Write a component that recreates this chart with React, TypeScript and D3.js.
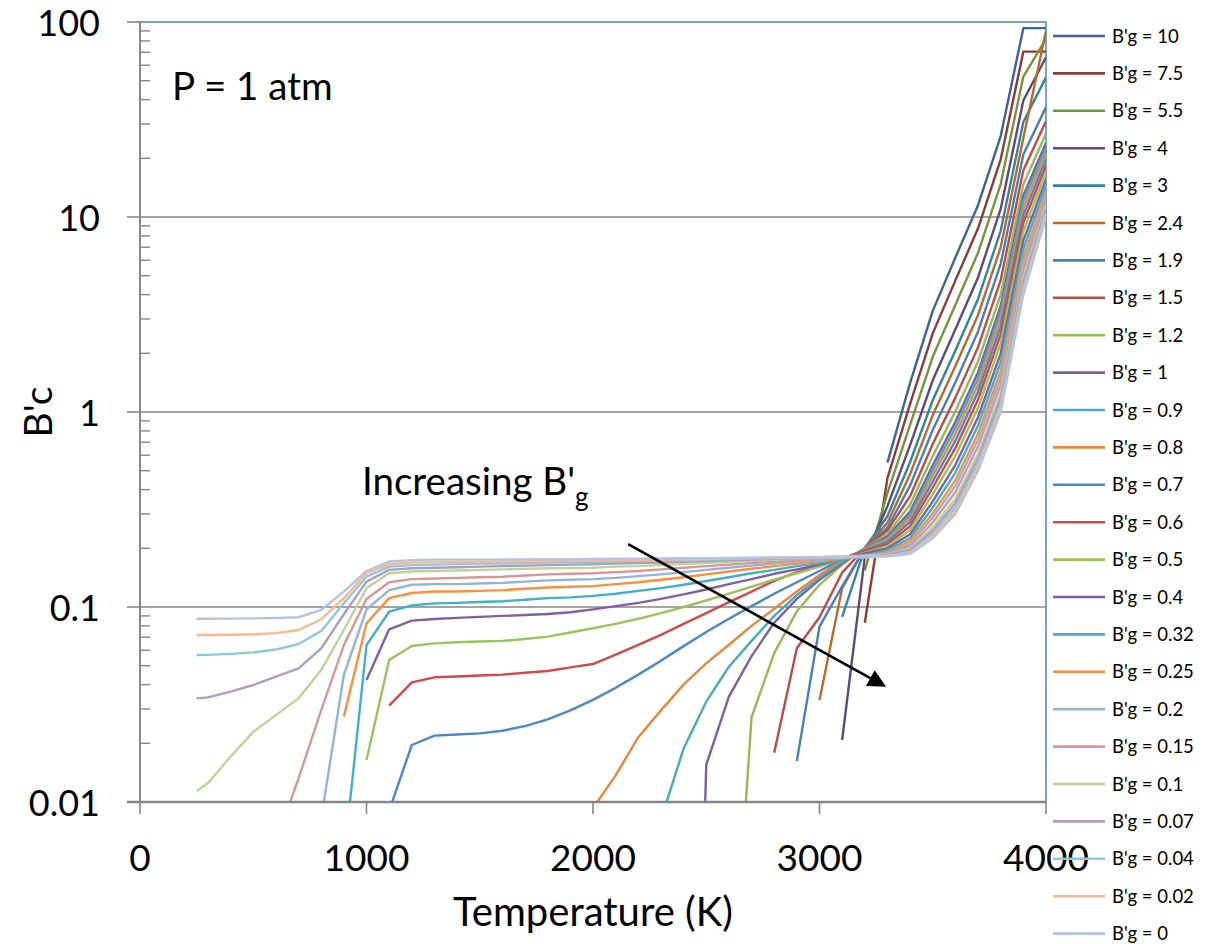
import React from 'react';
import * as d3 from 'd3';

// Temperature grid (K)
const TEMPS = [250, 300, 400, 500, 600, 700, 800, 900, 1000, 1100, 1200, 1300, 1400, 1500, 1600, 1700, 1800, 1900, 2000, 2100, 2200, 2300, 2400, 2500, 2600, 2700, 2800, 2900, 3000, 3100, 3200, 3300, 3400, 3500, 3600, 3700, 3800, 3900, 4000];

const LABELS = ["B'g = 10", "B'g = 7.5", "B'g = 5.5", "B'g = 4", "B'g = 3", "B'g = 2.4", "B'g = 1.9", "B'g = 1.5", "B'g = 1.2", "B'g = 1", "B'g = 0.9", "B'g = 0.8", "B'g = 0.7", "B'g = 0.6", "B'g = 0.5", "B'g = 0.4", "B'g = 0.32", "B'g = 0.25", "B'g = 0.2", "B'g = 0.15", "B'g = 0.1", "B'g = 0.07", "B'g = 0.04", "B'g = 0.02", "B'g = 0"];

const COLORS = ['#3C6497', '#8E3A38', '#77933C', '#5F497A', '#31859C', '#B9692E', '#4A7EBB', '#BE4B48', '#98B954', '#7D60A0', '#46AAC5', '#E8883A', '#4A86CA', '#CF4A48', '#9BC35A', '#7F5FA7', '#3FAFCA', '#FA8F3E', '#95B3D7', '#D99694', '#BBD49A', '#AC9CC8', '#8DC8DD', '#FAB88C', '#B4C4E0'];

// index into TEMPS at which each series begins
const START = [31, 30, 30, 29, 29, 28, 27, 26, 24, 22, 21, 18, 9, 9, 8, 8, 7, 7, 6, 4, 0, 0, 0, 0, 0];

const BG_10 = [0.55, 1.41, 3.3, 6.2, 11.5, 26, 93, 93];
const BG_7_5 = [0.083, 0.458, 1.1, 2.53, 4.73, 8.75, 19.75, 70.5, 70.5];
const BG_5_5 = [0.154, 0.384, 0.86, 1.92, 3.55, 6.55, 14.75, 52.5, 82];
const BG_4 = [0.0208, 0.18, 0.329, 0.676, 1.455, 2.66, 4.9, 11, 39.6, 66];
const BG_3 = [0.089, 0.2, 0.292, 0.554, 1.15, 2.07, 3.8, 8.5, 30.7, 52];
const BG_2_4 = [0.0333, 0.125, 0.2, 0.27, 0.48, 0.963, 1.72, 3.14, 7, 25.4, 90];
const BG_1_9 = [0.0162, 0.0794, 0.1275, 0.2, 0.255, 0.419, 0.809, 1.42, 2.59, 5.75, 20.9, 36.6];
const BG_1_5 = [0.0179, 0.0614, 0.0886, 0.15, 0.2, 0.247, 0.37, 0.686, 1.185, 2.15, 4.75, 17.35, 31];
const BG_1_2 = [0.0005, 0.0272, 0.058, 0.095, 0.13, 0.165, 0.2, 0.237, 0.334, 0.594, 1.01, 1.82, 4, 14.7, 26.8];
const BG_1 = [0.000001, 0.0155, 0.0347, 0.056, 0.083, 0.11, 0.138, 0.167, 0.2, 0.23, 0.309, 0.533, 0.89, 1.6, 3.5, 12.9, 24];
const BG_0_9 = [0.0081, 0.0188, 0.0327, 0.0494, 0.067, 0.09, 0.115, 0.142, 0.17, 0.2, 0.225, 0.297, 0.502, 0.831, 1.49, 3.25, 12.0, 22.6];
const BG_0_8 = [0.0093, 0.0137, 0.0215, 0.0295, 0.04, 0.0514, 0.064, 0.08, 0.098, 0.12, 0.146, 0.174, 0.198, 0.22, 0.285, 0.471, 0.772, 1.38, 3, 11.1, 21.2];
const BG_0_7 = [0.009, 0.0196, 0.0219, 0.0222, 0.0225, 0.0232, 0.0245, 0.0265, 0.0295, 0.0334, 0.0385, 0.045, 0.053, 0.063, 0.0745, 0.087, 0.101, 0.117, 0.134, 0.153, 0.176, 0.196, 0.215, 0.273, 0.44, 0.713, 1.27, 2.75, 10.2, 19.8];
const BG_0_6 = [0.0312, 0.0411, 0.0436, 0.044, 0.0445, 0.045, 0.046, 0.047, 0.049, 0.051, 0.057, 0.064, 0.072, 0.082, 0.093, 0.106, 0.12, 0.136, 0.151, 0.165, 0.178, 0.193, 0.21, 0.26, 0.41, 0.654, 1.16, 2.5, 9.34, 18.4];
const BG_0_5 = [0.0164, 0.0535, 0.0631, 0.0651, 0.066, 0.0665, 0.067, 0.0685, 0.0705, 0.074, 0.0778, 0.082, 0.087, 0.093, 0.100, 0.108, 0.117, 0.127, 0.138, 0.149, 0.161, 0.176, 0.19, 0.205, 0.248, 0.379, 0.595, 1.05, 2.25, 8.45, 17];
const BG_0_4 = [0.0422, 0.0768, 0.0851, 0.0868, 0.088, 0.089, 0.09, 0.091, 0.092, 0.094, 0.0973, 0.101, 0.105, 0.110, 0.116, 0.123, 0.131, 0.139, 0.148, 0.156, 0.165, 0.176, 0.188, 0.2, 0.236, 0.348, 0.536, 0.94, 2.0, 7.56, 15.6];
const BG_0_32 = [0.005, 0.0638, 0.0946, 0.102, 0.1044, 0.105, 0.106, 0.107, 0.109, 0.111, 0.112, 0.114, 0.117, 0.121, 0.125, 0.130, 0.136, 0.142, 0.149, 0.155, 0.162, 0.168, 0.175, 0.184, 0.195, 0.226, 0.323, 0.489, 0.852, 1.8, 6.85, 14.5];
const BG_0_25 = [0.0274, 0.0824, 0.111, 0.118, 0.120, 0.120, 0.121, 0.122, 0.124, 0.126, 0.127, 0.128, 0.131, 0.134, 0.138, 0.142, 0.147, 0.152, 0.157, 0.162, 0.167, 0.172, 0.177, 0.183, 0.191, 0.218, 0.302, 0.4475, 0.775, 1.625, 6.2, 13.5];
const BG_0_2 = [0.0082, 0.0448, 0.0973, 0.122, 0.130, 0.131, 0.131, 0.132, 0.133, 0.135, 0.137, 0.138, 0.139, 0.141, 0.144, 0.147, 0.151, 0.155, 0.159, 0.163, 0.167, 0.171, 0.175, 0.179, 0.183, 0.189, 0.211, 0.287, 0.418, 0.72, 1.5, 5.78, 12.8];
const BG_0_15 = [0.0063, 0.0132, 0.0296, 0.0638, 0.110, 0.134, 0.139, 0.140, 0.141, 0.142, 0.143, 0.145, 0.147, 0.148, 0.149, 0.151, 0.153, 0.156, 0.159, 0.162, 0.165, 0.168, 0.171, 0.174, 0.177, 0.18, 0.183, 0.1875, 0.205, 0.271, 0.389, 0.665, 1.375, 5.34, 12.1];
const BG_0_1 = [0.0114, 0.0125, 0.0171, 0.0229, 0.0279, 0.034, 0.0475, 0.0762, 0.125, 0.149, 0.152, 0.153, 0.154, 0.155, 0.156, 0.157, 0.158, 0.1585, 0.159, 0.161, 0.162, 0.164, 0.166, 0.168, 0.170, 0.172, 0.1745, 0.177, 0.179, 0.181, 0.183, 0.186, 0.199, 0.256, 0.359, 0.61, 1.25, 4.89, 11.4];
const BG_0_07 = [0.034, 0.0344, 0.0368, 0.0398, 0.0439, 0.0484, 0.0614, 0.0918, 0.135, 0.155, 0.158, 0.159, 0.16, 0.161, 0.162, 0.163, 0.164, 0.165, 0.1656, 0.167, 0.168, 0.169, 0.1705, 0.172, 0.1735, 0.175, 0.1765, 0.178, 0.18, 0.181, 0.182, 0.185, 0.196, 0.246, 0.341, 0.577, 1.175, 4.62, 11];
const BG_0_04 = [0.0567, 0.0568, 0.0575, 0.0585, 0.0605, 0.0646, 0.0753, 0.1045, 0.143, 0.161, 0.164, 0.165, 0.166, 0.167, 0.167, 0.168, 0.169, 0.1695, 0.170, 0.171, 0.172, 0.173, 0.174, 0.175, 0.176, 0.177, 0.178, 0.179, 0.18, 0.181, 0.182, 0.1835, 0.192, 0.237, 0.324, 0.544, 1.1, 4.36, 10.6];
const BG_0_02 = [0.0718, 0.0718, 0.072, 0.0725, 0.0735, 0.0762, 0.0865, 0.111, 0.149, 0.166, 0.169, 0.169, 0.170, 0.170, 0.171, 0.171, 0.172, 0.1725, 0.173, 0.1735, 0.174, 0.175, 0.1755, 0.176, 0.177, 0.178, 0.179, 0.18, 0.18, 0.181, 0.181, 0.183, 0.189, 0.231, 0.312, 0.522, 1.05, 4.18, 10.3];
const BG_0 = [0.0871, 0.0871, 0.0872, 0.0874, 0.0878, 0.0886, 0.0966, 0.120, 0.153, 0.171, 0.174, 0.175, 0.175, 0.175, 0.175, 0.1755, 0.176, 0.176, 0.1765, 0.177, 0.177, 0.1775, 0.178, 0.178, 0.1785, 0.179, 0.1795, 0.18, 0.18, 0.18, 0.18, 0.182, 0.187, 0.225, 0.30, 0.50, 1.0, 4.0, 10];

const SERIES = [BG_10, BG_7_5, BG_5_5, BG_4, BG_3, BG_2_4, BG_1_9, BG_1_5, BG_1_2, BG_1, BG_0_9, BG_0_8, BG_0_7, BG_0_6, BG_0_5, BG_0_4, BG_0_32, BG_0_25, BG_0_2, BG_0_15, BG_0_1, BG_0_07, BG_0_04, BG_0_02, BG_0];

const X_TICKS = [0, 1000, 2000, 3000, 4000];
const Y_TICKS = [0.01, 0.1, 1, 10, 100];
const Y_TICK_LABELS = ['0.01', '0.1', '1', '10', '100'];

// annotation arrow in data coordinates [T, B'c]
const ARROW_FROM = [2155, 0.21];
const ARROW_TO = [3294, 0.039];

const FONT = 'Lato, "Open Sans", "DejaVu Sans", sans-serif';

export default function App() {
  const W = 1208, H = 944;
  const L = 140, R = 1046, T = 22, B = 802;
  const x = d3.scaleLinear().domain([0, 4000]).range([L, R]);
  const y = d3.scaleLog().domain([0.01, 100]).range([B, T]);
  const line = d3.line<[number, number]>().x(d => x(d[0])).y(d => y(d[1]));

  const minor: number[] = [];
  for (let k = -2; k <= 1; k++) for (let j = 2; j <= 9; j++) minor.push(j * Math.pow(10, k));

  const gridColor = '#868686';
  const series = SERIES.map((vals, i) => vals.map((v, j) => [TEMPS[START[i] + j], v] as [number, number]));

  const ax0 = x(ARROW_FROM[0]), ay0 = y(ARROW_FROM[1]);
  const ax1 = x(ARROW_TO[0]), ay1 = y(ARROW_TO[1]);
  const dx = ax1 - ax0, dy = ay1 - ay0, len = Math.hypot(dx, dy);
  const ux = dx / len, uy = dy / len;
  const headL = 18, headW = 9;
  const bx = ax1 - ux * headL, by = ay1 - uy * headL;
  const head = `M${ax1},${ay1}L${bx - uy * headW},${by + ux * headW}L${bx + uy * headW},${by - ux * headW}Z`;

  return (
    <svg width={W} height={H} style={{ position: 'absolute', left: 0, top: 0, background: '#fff' }} fontFamily={FONT}>
      <defs>
        <clipPath id="plot"><rect x={L} y={T} width={R - L} height={B - T} /></clipPath>
      </defs>
      <rect x={0} y={0} width={W} height={H} fill="#fff" />
      {Y_TICKS.slice(1, 4).map(v => (
        <line key={'g' + v} x1={L} x2={R} y1={y(v)} y2={y(v)} stroke={gridColor} strokeWidth={1.6} />
      ))}
      <rect x={L} y={T} width={R - L} height={B - T} fill="none" stroke="#5B8AC6" strokeWidth={1.6} />
      <g clipPath="url(#plot)">
        {series.map((pts, i) => (
          <path key={i} d={line(pts) || ''} fill="none" stroke={COLORS[i]} strokeWidth={2.4} strokeLinejoin="round" />
        ))}
      </g>
      <line x1={L} x2={L} y1={T} y2={B} stroke={gridColor} strokeWidth={2} />
      <line x1={L - 13} x2={R} y1={B} y2={B} stroke={gridColor} strokeWidth={2.6} />
      {Y_TICKS.map(v => (
        <line key={'yt' + v} x1={L - 13} x2={L} y1={y(v)} y2={y(v)} stroke={gridColor} strokeWidth={1.6} />
      ))}
      {minor.map(v => (
        <line key={'ym' + v} x1={L} x2={L + 10} y1={y(v)} y2={y(v)} stroke={gridColor} strokeWidth={1.4} />
      ))}
      {X_TICKS.map(v => (
        <line key={'xt' + v} x1={x(v)} x2={x(v)} y1={B} y2={B + 12} stroke={gridColor} strokeWidth={1.6} />
      ))}
      {Y_TICKS.map((v, i) => (
        <text key={'yl' + v} x={100} y={y(v)} dy="0.4em" textAnchor="end" fontSize={36} fill="#000">{Y_TICK_LABELS[i]}</text>
      ))}
      {X_TICKS.map(v => (
        <text key={'xl' + v} x={x(v)} y={858} dy="0.36em" textAnchor="middle" fontSize={37} fill="#000">{v}</text>
      ))}
      <text x={(L + R) / 2} y={926} textAnchor="middle" fontSize={40} fill="#000">Temperature (K)</text>
      <text transform={`translate(52,${(T + B) / 2}) rotate(-90)`} textAnchor="middle" fontSize={39} fill="#000">B'c</text>
      <text x={172} y={100} fontSize={38.5} fill="#000">P = 1 atm</text>
      <text x={362} y={495} fontSize={38.5} fill="#000">Increasing B'<tspan dy={11} fontSize={26}>g</tspan></text>
      <line x1={ax0} y1={ay0} x2={bx} y2={by} stroke="#000" strokeWidth={2.6} />
      <path d={head} fill="#000" />
      {LABELS.map((lab, i) => {
        const ly = 36 + i * 37.4;
        return (
          <g key={'lg' + i}>
            <line x1={1053} x2={1105} y1={ly} y2={ly} stroke={COLORS[i]} strokeWidth={2.6} />
            <text x={1112} y={ly} dy="0.36em" fontSize={18.5} fill="#000">{lab}</text>
          </g>
        );
      })}
    </svg>
  );
}
